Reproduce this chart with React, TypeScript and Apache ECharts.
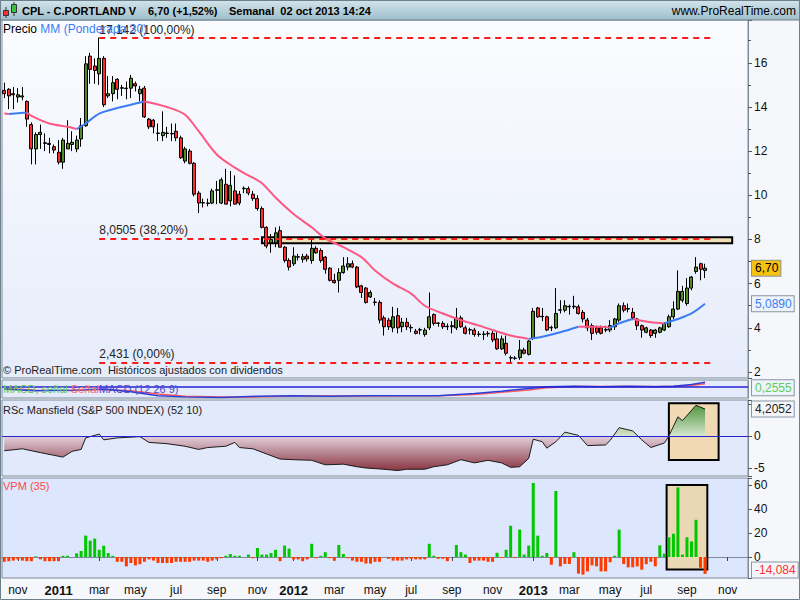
import React, { useEffect, useRef } from "react";
import * as echarts from "echarts";

const FIRST_MONDAY = "2010-10-11";
const WEEK_COUNT = 165;
const MESES = ["ene", "feb", "mar", "abr", "may", "jun", "jul", "ago", "sep", "oct", "nov", "dic"];

const OPEN = [
  14.75, 14.8, 14.6, 14.45, 14.45, 14.25, 13.2, 12.1, 12.75, 12.35,
  12.35, 12.2, 11.95, 11.5, 12.1, 12.3, 12.1, 12.55, 13.15, 16.3,
  15.85, 15.5, 16.2, 14.5, 14.6, 15.25, 14.85, 14.85, 14.85, 15.05,
  14.6, 14.85, 13.45, 13.4, 12.8, 12.7, 12.8, 12.8, 12.9, 12.6,
  11.55, 12.0, 11.45, 10.1, 9.65, 9.65, 9.65, 10.23, 9.65, 10.5,
  9.75, 10.2, 10.05, 10.3, 10.3, 10.05, 9.85, 9.4, 8.55, 7.85,
  7.85, 8.4, 7.65, 7.05, 6.9, 7.2, 7.1, 7.25, 7.05, 7.6,
  7.5, 7.2, 6.7, 6.15, 6.15, 6.5, 6.75, 6.9, 6.75, 5.9,
  5.8, 5.4, 5.15, 5.15, 4.45, 4.35, 4.0, 4.55, 4.05, 4.25,
  4.0, 3.85, 3.9, 3.7, 4.0, 4.6, 4.2, 4.2, 4.05, 4.1,
  4.0, 4.45, 4.0, 3.9, 3.9, 3.7, 3.7, 3.75, 3.75, 3.5,
  3.05, 3.3, 2.63, 2.63, 2.65, 3.0, 2.8, 3.55, 4.9, 4.5,
  4.5, 4.0, 4.0, 4.8, 4.8, 4.95, 4.95, 4.95, 4.7, 4.35,
  4.1, 4.0, 4.0, 3.9, 3.9, 4.05, 4.35, 5.0, 4.85,
  4.7, 4.4, 4.1, 3.8, 3.9, 3.75, 3.8, 3.9, 4.05, 4.5, 4.85, 5.25, 5.1, 5.8, 6.55, 6.9, 6.6,
];
const CLOSE = [
  14.6, 14.5, 14.55, 14.55, 14.5, 13.45, 12.1, 12.75, 12.85, 12.38,
  12.3, 12.05, 11.5, 12.5, 12.35, 12.4, 12.5, 13.15, 15.95, 15.7,
  15.65, 16.2, 14.1, 14.6, 15.1, 14.8, 14.87, 14.83, 15.3, 14.95,
  14.8, 13.55, 13.1, 13.1, 12.82, 12.85, 12.82, 12.78, 12.6, 11.7,
  12.1, 11.45, 10.05, 9.65, 9.67, 9.63, 10.2, 10.25, 10.7, 9.6,
  10.45, 9.6, 9.65, 10.32, 10.1, 9.85, 9.4, 8.55, 7.7, 8.0,
  8.3, 7.65, 7.05, 6.75, 7.25, 7.22, 7.22, 7.12, 7.6, 7.4,
  7.05, 6.65, 6.15, 6.05, 6.5, 6.8, 6.9, 6.75, 5.85, 5.6,
  5.15, 5.6, 5.17, 4.35, 4.05, 4.05, 4.5, 4.0, 4.25, 4.05,
  4.02, 3.75, 3.92, 3.9, 4.5, 4.2, 4.22, 4.05, 4.07, 4.05,
  4.45, 4.05, 3.75, 3.92, 3.7, 3.72, 3.72, 3.73, 3.45, 3.05,
  3.5, 2.85, 2.65, 2.62, 3.0, 2.85, 3.4, 4.75, 4.5, 4.52,
  3.9, 4.02, 4.65, 4.82, 5.0, 4.97, 4.98, 4.65, 4.4, 4.0,
  3.75, 3.8, 3.75, 3.92, 4.1, 4.4, 5.0, 4.8, 4.87,
  4.45, 4.1, 3.9, 4.0, 3.65, 3.9, 4.0, 4.2, 4.5, 4.85, 5.65, 5.65, 5.8, 6.3, 6.75, 6.65, 6.7,
];
const LOW = [
  14.4, 13.9, 13.9, 14.2, 14.3, 13.1, 11.4, 11.4, 12.1, 12.0,
  11.9, 11.9, 11.4, 11.2, 12.1, 12.0, 11.95, 12.2, 13.1, 15.05,
  15.05, 15.0, 14.0, 14.4, 14.25, 14.35, 14.5, 14.35, 14.4, 14.7,
  14.25, 13.5, 13.0, 12.8, 12.45, 12.45, 12.6, 12.45, 12.45, 11.65,
  11.45, 11.4, 9.95, 9.2, 9.45, 9.5, 9.6, 9.6, 9.6, 9.6,
  9.5, 9.6, 9.55, 10.1, 10.0, 9.75, 9.3, 8.5, 7.6, 7.4,
  7.65, 7.65, 6.95, 6.6, 6.8, 7.05, 6.95, 7.0, 6.9, 7.35,
  6.95, 6.45, 6.1, 6.0, 5.6, 6.45, 6.6, 6.7, 5.8, 5.35,
  5.1, 5.35, 5.0, 4.2, 3.65, 3.9, 3.8, 3.75, 3.8, 3.9,
  3.8, 3.7, 3.7, 3.6, 3.9, 4.1, 4.05, 3.95, 3.9, 3.75,
  3.9, 4.0, 3.7, 3.7, 3.6, 3.6, 3.45, 3.6, 3.35, 3.0,
  3.0, 2.75, 2.431, 2.55, 2.55, 2.8, 2.75, 3.45, 4.45, 4.3,
  3.85, 3.85, 3.95, 4.65, 4.7, 4.6, 4.85, 4.6, 4.25, 3.85,
  3.45, 3.7, 3.7, 3.8, 3.8, 3.9, 4.25, 4.7, 4.7,
  4.35, 3.9, 3.55, 3.75, 3.55, 3.55, 3.75, 3.85, 4.0, 4.4, 4.8, 5.15, 5.0, 5.7, 6.45, 6.15, 6.25,
];
const HIGH = [
  15.1, 14.85, 14.9, 14.85, 14.9, 14.3, 13.3, 12.85, 13.2, 12.8,
  12.6, 12.3, 12.5, 12.6, 13.4, 12.9, 12.7, 13.5, 16.3, 16.45,
  16.2, 17.142, 16.3, 15.4, 15.4, 15.3, 15.0, 15.15, 15.45, 15.15,
  14.95, 14.95, 13.5, 13.45, 13.25, 13.8, 13.1, 13.25, 13.25, 12.7,
  12.2, 12.1, 11.5, 10.2, 9.85, 9.85, 10.3, 10.65, 10.8, 11.2,
  11.1, 10.9, 10.2, 10.4, 10.4, 10.2, 10.0, 9.5, 8.6, 8.25,
  8.55, 8.6, 7.7, 7.15, 7.65, 7.35, 7.35, 7.35, 8.1, 7.7,
  7.6, 7.25, 6.75, 6.45, 6.7, 7.2, 7.2, 7.05, 6.8, 5.95,
  5.85, 5.7, 5.35, 5.25, 4.55, 4.45, 4.95, 4.9, 4.45, 4.45,
  4.15, 3.95, 4.0, 4.0, 5.6, 4.65, 4.25, 4.3, 4.2, 4.3,
  4.9, 4.55, 4.1, 4.0, 4.0, 3.85, 3.85, 3.85, 3.85, 3.85,
  3.65, 3.65, 2.75, 2.72, 3.45, 3.1, 3.45, 4.9, 4.95, 4.9,
  4.55, 4.1, 5.8, 5.25, 5.25, 5.05, 5.45, 5.05, 4.8, 4.45,
  4.2, 4.1, 4.1, 4.1, 4.35, 4.45, 5.1, 5.15, 5.1,
  4.9, 4.45, 4.15, 4.05, 3.95, 3.95, 4.05, 4.25, 4.6, 5.2, 6.6, 5.9, 6.25, 6.35, 7.2, 6.95, 6.9,
];

// Weighted moving average (30): [week index, value]
const MA30 = [
  [0, 13.7], [1, 13.68], [5, 13.75], [6, 13.6], [10, 13.25], [14, 13.1], [16, 13.0], [18, 13.25],
  [21, 13.7], [25, 13.95], [28, 14.1], [31, 14.25], [36, 14.0], [40, 13.65], [43, 12.9], [47, 11.85],
  [51, 11.25], [54, 10.9], [57, 10.55], [60, 9.9], [64, 9.15], [68, 8.55], [71, 8.05], [75, 7.65],
  [79, 7.2], [82, 6.6], [86, 6.0], [90, 5.55], [93, 5.0], [97, 4.65], [101, 4.35], [105, 4.1],
  [108, 3.9], [112, 3.65], [116, 3.5], [119, 3.6], [123, 3.8], [127, 4.05], [132, 4.05], [134, 4.0],
  [136, 4.2], [139, 4.4], [143, 4.25], [146, 4.2], [149, 4.4], [152, 4.65], [155, 5.089],
];
// MA colour runs (rising = blue, falling = pink): [from week, to week, rising?]
const MA_RUNS: [number, number, boolean][] = [
  [0, 1, false], [1, 5, true], [5, 16, false], [16, 31, true], [31, 116, false],
  [116, 127, true], [127, 134, false], [134, 139, true], [139, 146, false], [146, 155, true],
];

const MACD_LINE = [
  [0, -0.2], [7, -0.35], [15, -0.3], [22, -0.2], [28, -0.45], [34, -0.8], [40, -0.9], [48, -0.95],
  [56, -0.85], [64, -0.8], [72, -0.85], [80, -0.8], [88, -0.8], [96, -0.8], [104, -0.6], [110, -0.4],
  [116, -0.15], [120, 0.0], [126, 0.05], [132, 0.0], [138, 0.05], [144, 0.0], [148, 0.05], [152, 0.2], [155, 0.4],
];
const MACD_SIGNAL = [
  [0, -0.15], [7, -0.3], [15, -0.33], [22, -0.25], [28, -0.35], [34, -0.65], [40, -0.85], [48, -0.92],
  [56, -0.9], [64, -0.82], [72, -0.83], [80, -0.82], [88, -0.8], [96, -0.8], [104, -0.68], [110, -0.5],
  [116, -0.28], [120, -0.1], [126, 0.02], [132, 0.02], [138, 0.02], [144, 0.02], [148, 0.02], [152, 0.12], [155, 0.26],
];

const RSC = [
  [0, -2.3], [4, -2.0], [8, -2.6], [13, -3.3], [15, -2.4], [17, -2.1], [18, -0.3], [21, 0.3], [22, -0.6],
  [25, -0.3], [30, -0.1], [32, -1.0], [36, -1.2], [40, -1.6], [43, -2.1], [45, -1.8], [49, -1.6], [51, -1.0],
  [52, -1.8], [55, -2.0], [58, -2.8], [61, -3.6], [64, -3.7], [68, -3.8], [71, -4.5], [75, -4.4], [78, -4.8],
  [80, -5.0], [84, -5.2], [87, -5.4], [89, -5.2], [93, -5.2], [95, -4.8], [98, -4.5], [101, -3.7], [104, -4.2],
  [107, -3.8], [110, -4.2], [112, -4.9], [114, -4.8], [116, -3.5], [117, -0.5], [119, -0.9], [120, -1.9],
  [122, -0.9], [124, 0.6], [127, 0.1], [129, -1.5], [133, -1.4], [134, -0.7], [136, 1.3], [139, 0.8],
  [141, -0.6], [143, -1.8], [146, -1.1], [147, 0], [149, 3.0], [150, 2.4], [153, 4.8], [155, 4.2052],
];

const VPM = [
  -4, -3.5, -3, -2, -3, -3.5, -3.5, 0.5, -2, -3.5,
  -3.5, -3.5, -3.5, 1, 1, 0, 3, 5, 17.8, 13.6,
  15.3, 6, 9.4, 3.3, 1, -4, -4, -7.8, -5, -7,
  -6, -4, -2, -3, -5, -5, -5, -5, -4, -4,
  -4, -4, -3, -3, -3, -4, -3, -2, -1, 1,
  2.5, 1, 1, 0, 2, -1, 7.5, 2, 2, 3.3,
  6, -3.5, 9.5, 7, -2, -2, -3.5, -2, 11, -1,
  1, 4, -1, -3, 10, 2.5, -1, -3, -4, -4,
  -5.5, -5.5, -4, -4, 0, -1.5, -3, -3, -3, -2,
  -1.5, -2, -2, -2, 11, 1, -1.5, -1.5, -3.5, 0,
  10, 4, 2, -5, -3, -3, -3, -4, -4, 3.5,
  -0.8, 6, 26, -0.8, 22.8, 2, 9.5, 61.7, 17.8, 1,
  3.3, -6.4, 55, -7.8, -5.8, -5.8, 4, -13.9, -14.7, -12,
  -7, -7.8, -12, -12, -4.4, 1, 22.8, -5.8, -8.6, -8.6,
  -7.8, -10.6, -6, -4, -7.8, 9.7, 2.8, 16.4, 19.4, 58,
  2, 16.4, 13, 31, -9, -14.084,
];

const FIB_LEVELS = [17.142, 8.0505, 2.431];
const FIB_TEXT = ["17,142 (100,00%)", "8,0505 (38,20%)", "2,431 (0,00%)"];
const LAST = { close: 6.7, ma: 5.089, macd: 0.2555, rsc: 4.2052, vpm: -14.084 };

const FONT = "'Liberation Sans', Arial, sans-serif";
const BLUE = "#3a7df2";
const PINK = "#ff5783";

const weeks: string[] = Array.from({ length: WEEK_COUNT }, (_, i) =>
  new Date(Date.parse(FIRST_MONDAY + "T00:00:00Z") + i * 7 * 864e5).toISOString().slice(0, 10)
);
const isLabelWeek = (i: number) => {
  if (i <= 0) return false;
  const m = Number(weeks[i].slice(5, 7));
  const pm = Number(weeks[i - 1].slice(5, 7));
  return m !== pm && m % 2 === 1;
};

function buildOption(): any {
  const candles = OPEN.map((o, i) => [o, CLOSE[i], LOW[i], HIGH[i]]);
  const grids = [
    { left: 2, top: 20, width: 746, height: 358, bg: { type: "linear", x: 0, y: 0, x2: 0, y2: 1, colorStops: [{ offset: 0, color: "#fbfcff" }, { offset: 1, color: "#e6ecfa" }] } },
    { left: 2, top: 380, width: 746, height: 18, bg: "#e5ebfa" },
    { left: 2, top: 400, width: 746, height: 76, bg: "#e2e9fb" },
    { left: 2, top: 478, width: 746, height: 100, bg: "#dce6fc" },
  ];
  const xAxis = grids.map((_, gi) => {
    const last = gi === 3;
    return {
      type: "category",
      gridIndex: gi,
      data: weeks,
      boundaryGap: true,
      axisLine: { show: last, lineStyle: { color: "#7d8b99" } },
      axisTick: { show: last, interval: (i: number) => isLabelWeek(i), alignWithLabel: true, length: 4, lineStyle: { color: "#444" } },
      axisLabel: {
        show: last,
        interval: (i: number) => isLabelWeek(i),
        margin: 6,
        formatter: (v: string) => {
          const m = Number(v.slice(5, 7));
          return m === 1 ? "{y|" + v.slice(0, 4) + "}" : "{m|" + MESES[m - 1] + "}";
        },
        rich: {
          m: { fontSize: 12, color: "#111", fontFamily: FONT },
          y: { fontSize: 13, fontWeight: "bold", color: "#111", fontFamily: FONT },
        },
      },
      splitLine: { show: false },
    };
  });
  const yBase = {
    position: "right",
    axisLine: { show: true, lineStyle: { color: "#7d8b99" } },
    axisTick: { show: true, length: 4, lineStyle: { color: "#555" } },
    splitLine: { show: false },
  };
  const lbl = { color: "#111", fontSize: 12, fontFamily: FONT, margin: 6 };
  const yAxis = [
    {
      ...yBase, type: "value", gridIndex: 0, min: 1.729, max: 17.936, splitNumber: 8,
      minorTick: { show: true, splitNumber: 2, length: 3, lineStyle: { color: "#555" } },
      axisLabel: { ...lbl, formatter: (v: number) => { const r = Math.round(v); return Math.abs(v - r) < 1e-6 && r % 2 === 0 ? String(r) : ""; } },
    },
    { ...yBase, type: "value", gridIndex: 1, min: -1, max: 0.6, axisTick: { show: false }, axisLabel: { show: false } },
    {
      ...yBase, type: "value", gridIndex: 2, min: -6.25, max: 5.625, splitNumber: 2,
      axisLabel: { ...lbl, formatter: (v: number) => (Math.abs(v) < 1e-6 ? "0" : Math.abs(v + 5) < 1e-6 ? "-5" : "") },
    },
    {
      ...yBase, type: "value", gridIndex: 3, min: -17.5, max: 65.8, splitNumber: 4,
      axisLabel: { ...lbl, formatter: (v: number) => (v >= 0 && Math.abs(v % 20) < 1e-6 ? String(Math.round(v)) : "") },
    },
  ];

  const boxLabel = (text: string, color: string, bg: string, offsetY = 0) => ({
    show: true, position: "end", distance: 4, formatter: text, color, backgroundColor: bg,
    borderColor: "#8a96a3", borderWidth: 1, padding: [2, 2, 1, 3], fontSize: 12, fontFamily: FONT, offset: [0, offsetY],
  });
  const hiddenLine = { color: "rgba(0,0,0,0)", width: 1, type: "solid" };

  const fibLines = FIB_LEVELS.map((v, i) => [
    {
      coord: [21, v],
      label: { show: true, position: "insideStartTop", formatter: FIB_TEXT[i], color: "#222", fontSize: 12, fontFamily: FONT, distance: [0, 2] },
      lineStyle: { color: "#ff1a1a", width: 2, type: [6, 5] },
    },
    { coord: [157, v] },
  ]);

  const maSeries = MA_RUNS.map(([from, to, up], k) => ({
    type: "line",
    name: "MM30-" + k,
    xAxisIndex: 0, yAxisIndex: 0,
    data: MA30.filter(([i]) => i >= from && i <= to),
    showSymbol: false,
    smooth: 0.3,
    lineStyle: { width: 2, color: up ? BLUE : PINK },
    itemStyle: { color: up ? BLUE : PINK },
    z: 3,
    ...(k === MA_RUNS.length - 1
      ? { markLine: { silent: true, symbol: "none", data: [{ yAxis: LAST.ma, lineStyle: hiddenLine, label: boxLabel("5,0890", BLUE, "#eef3fb") }] } }
      : {}),
  }));

  const series: any[] = [
    {
      type: "candlestick",
      name: "CPL",
      xAxisIndex: 0, yAxisIndex: 0,
      data: candles,
      barWidth: 3.5,
      itemStyle: { color: "#4f8a24", color0: "#ff2a2a", borderColor: "#000", borderColor0: "#000", borderWidth: 1 },
      markArea: {
        silent: true,
        itemStyle: { color: "#f1dfb8", borderColor: "#000", borderWidth: 2 },
        data: [[{ coord: [57, 8.1] }, { coord: [161, 7.83] }]],
      },
      markLine: {
        silent: true, symbol: "none", animation: false,
        data: [
          ...fibLines,
          { yAxis: LAST.close, lineStyle: hiddenLine, label: boxLabel("6,70", "#000", "#f6c20f") },
        ],
      },
    },
    ...maSeries,
    {
      type: "line", name: "MACD", xAxisIndex: 1, yAxisIndex: 1, data: MACD_LINE, showSymbol: false,
      lineStyle: { width: 1.5, color: "#2b3fd8" }, itemStyle: { color: "#2b3fd8" }, z: 3,
      markLine: {
        silent: true, symbol: "none",
        data: [
          { yAxis: 0, lineStyle: { color: "#2323d6", width: 1.5, type: "solid" }, label: { show: false } },
          { yAxis: LAST.macd, lineStyle: hiddenLine, label: boxLabel("0,2555", "#5ccf5c", "#eef3fb", 4) },
        ],
      },
    },
    {
      type: "line", name: "Señal", xAxisIndex: 1, yAxisIndex: 1, data: MACD_SIGNAL, showSymbol: false,
      lineStyle: { width: 1.5, color: "#ff5a5a" }, itemStyle: { color: "#ff5a5a" }, z: 2,
    },
    {
      type: "line", name: "RSc", xAxisIndex: 2, yAxisIndex: 2, data: RSC, showSymbol: false,
      lineStyle: { width: 1, color: "#1c1c1c" }, itemStyle: { color: "#1c1c1c" },
      areaStyle: {
        color: {
          type: "linear", x: 0, y: 400, x2: 0, y2: 476, global: true,
          colorStops: [
            { offset: 0, color: "#3a8a28" }, { offset: 0.474, color: "#d6e5cf" },
            { offset: 0.474, color: "#e2d2dc" }, { offset: 1, color: "#7b1b29" },
          ],
        },
        opacity: 1,
      },
      markArea: {
        silent: true,
        itemStyle: { color: "#efdab4", borderColor: "#000", borderWidth: 2 },
        data: [[{ coord: [147, 5.1] }, { coord: [158, -3.75] }]],
      },
      markLine: {
        silent: true, symbol: "none",
        data: [
          { yAxis: 0, lineStyle: { color: "#2323d6", width: 1.2, type: "solid" }, label: { show: false } },
          { yAxis: LAST.rsc, lineStyle: hiddenLine, label: boxLabel("4,2052", "#222", "#f4f6fa") },
        ],
      },
    },
    {
      type: "bar", name: "VPM", xAxisIndex: 3, yAxisIndex: 3, data: VPM, barWidth: 3,
      itemStyle: { color: (p: any) => (p.value >= 0 ? "#00c800" : "#ff3a00") },
      markArea: {
        silent: true,
        itemStyle: { color: "#ead8b4", borderColor: "#000", borderWidth: 2 },
        data: [[{ coord: [143, 60] }, { coord: [156, -10.5] }]],
      },
      markLine: {
        silent: true, symbol: "none",
        data: [{ yAxis: LAST.vpm, lineStyle: hiddenLine, label: boxLabel("-14,084", "#ff3030", "#f4f6fa", -4) }],
      },
    },
  ];

  const txt = (x: number, y: number, text: string, fill: string, font: string, extra: any = {}) => ({
    type: "text", x, y, z: 100,
    style: { text, fill, font, verticalAlign: "middle", align: "left", ...extra },
  });

  const graphic: any[] = [
    {
      type: "rect", z: 90, shape: { x: 0, y: 0, width: 800, height: 20 },
      style: {
        fill: { type: "linear", x: 0, y: 0, x2: 0, y2: 1, colorStops: [{ offset: 0, color: "#d2e4eb" }, { offset: 1, color: "#9fbfcc" }] },
        stroke: "#6d7f8b", lineWidth: 1,
      },
    },
    // header icon
    { type: "line", z: 100, shape: { x1: 6, y1: 7, x2: 6, y2: 18 }, style: { stroke: "#333", lineWidth: 1 } },
    { type: "rect", z: 101, shape: { x: 3.5, y: 10.5, width: 5, height: 5 }, style: { fill: "#ff3030", stroke: "#333", lineWidth: 1 } },
    { type: "line", z: 100, shape: { x1: 14, y1: 2, x2: 14, y2: 16 }, style: { stroke: "#333", lineWidth: 1 } },
    { type: "rect", z: 101, shape: { x: 11.5, y: 4.5, width: 5, height: 8 }, style: { fill: "#3fbf3f", stroke: "#333", lineWidth: 1 } },
    txt(22, 11, "CPL - C.PORTLAND V", "#000", "bold 11px " + FONT),
    txt(148, 11, "6,70 (+1,52%)", "#000", "bold 11px " + FONT),
    txt(229, 11, "Semanal  02 oct 2013 14:24", "#000", "bold 11px " + FONT),
    txt(796, 11, "www.ProRealTime.com", "#000", "12px " + FONT, { align: "right" }),
    {
      type: "text", x: 3, y: 29, z: 100,
      style: {
        text: "{a|Precio} {b|MM (Ponderada 30)}", verticalAlign: "middle", font: "12px " + FONT,
        rich: { a: { fill: "#000", font: "12px " + FONT }, b: { fill: "#3a7df2", font: "12px " + FONT } },
      },
    },
    txt(3, 370, "© ProRealTime.com  Históricos ajustados con dividendos", "#222", "11px " + FONT),
    {
      type: "text", x: 3, y: 389, z: 100,
      style: {
        text: "{g|MACD, señal }{r|Señal}{b|MACD (12 26 9)}", verticalAlign: "middle", font: "11px " + FONT,
        rich: { g: { fill: "#63c563", font: "11px " + FONT }, r: { fill: "#ff6a6a", font: "11px " + FONT }, b: { fill: "#4a4ad0", font: "11px " + FONT } },
      },
    },
    txt(3, 410, "RSc Mansfield (S&P 500 INDEX) (52 10)", "#222", "11px " + FONT),
    txt(3, 486, "VPM (35)", "#ff4a4a", "11px " + FONT),
    { type: "rect", z: 120, shape: { x: 0.5, y: 0.5, width: 799, height: 599 }, style: { fill: "none", stroke: "#6d7f8b", lineWidth: 1 } },
  ];

  return {
    animation: false,
    backgroundColor: "#f5f7fa",
    textStyle: { fontFamily: FONT },
    grid: grids.map((g) => ({ left: g.left, top: g.top, width: g.width, height: g.height, show: true, backgroundColor: g.bg, borderColor: "#7d8b99", borderWidth: 1 })),
    xAxis,
    yAxis,
    series,
    graphic,
  };
}

export default function App() {
  const ref = useRef<HTMLDivElement>(null);
  useEffect(() => {
    if (!ref.current) return;
    const chart = echarts.init(ref.current, undefined, { renderer: "svg" });
    chart.setOption(buildOption());
    return () => chart.dispose();
  }, []);
  return <div ref={ref} style={{ position: "fixed", left: 0, top: 0, width: 800, height: 600 }} />;
}
